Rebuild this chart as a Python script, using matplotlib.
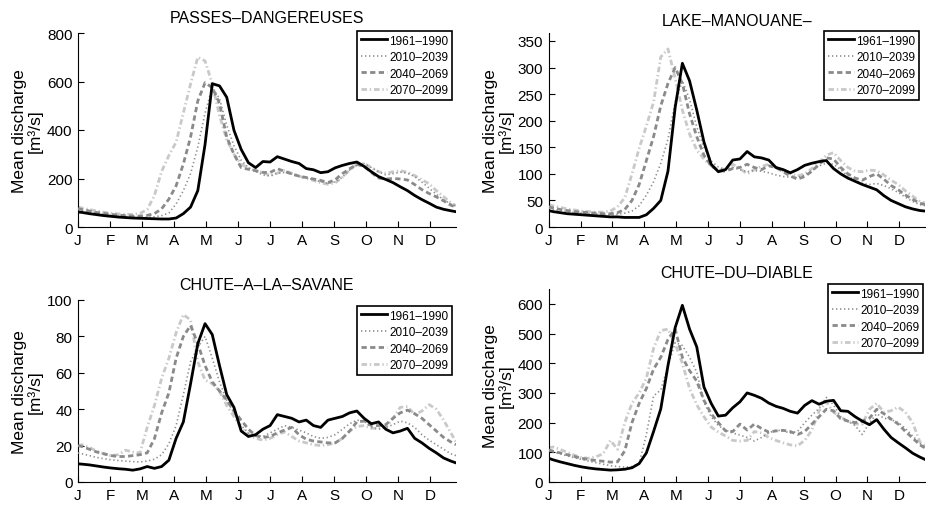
import numpy as np
import matplotlib.pyplot as plt

plt.rcParams['font.family'] = ['Liberation Sans', 'DejaVu Sans']

# day of year grid (ticks every 31 days, one per month letter)
days = np.r_[1, np.arange(5, 363, 7), 367]
months = ['J', 'F', 'M', 'A', 'M', 'J', 'J', 'A', 'S', 'O', 'N', 'D']
periods = ['1961–1990', '2010–2039', '2040–2069', '2070–2099']

# PASSES-DANGEREUSES
pd_1961 = [62, 60, 55, 51, 47, 44, 41, 39, 37,
           36, 35, 34, 33, 33, 37, 55, 82, 150,
           340, 591, 582, 535, 399, 320, 265, 245, 270,
           268, 290, 280, 270, 262, 241, 236, 224, 228,
           244, 254, 262, 268, 250, 228, 208, 196, 183,
           166, 150, 130, 113, 98, 82, 73, 67, 63]
pd_2010 = [72, 68, 62, 57, 52, 48, 45, 43, 41,
           40, 40, 42, 47, 58, 95, 150, 220, 330,
           470, 575, 530, 420, 335, 275, 245, 230, 215,
           210, 222, 225, 218, 210, 203, 196, 186, 180,
           186, 205, 235, 255, 262, 245, 228, 215, 220,
           226, 222, 208, 185, 160, 135, 112, 95, 86]
pd_2040 = [76, 72, 66, 60, 56, 52, 49, 47, 45,
           45, 48, 55, 75, 115, 170, 260, 371, 520,
           595, 575, 510, 371, 300, 245, 238, 232, 225,
           225, 240, 230, 218, 210, 204, 198, 192, 183,
           195, 220, 240, 258, 250, 225, 202, 198, 200,
           198, 194, 175, 154, 138, 124, 108, 90, 82]
pd_2070 = [82, 78, 72, 66, 61, 57, 54, 52, 52,
           56, 72, 130, 230, 295, 350, 470, 590, 700,
           685, 590, 460, 360, 300, 260, 242, 232, 225,
           212, 222, 232, 222, 210, 200, 192, 182, 176,
           182, 205, 235, 258, 262, 245, 228, 222, 228,
           232, 226, 212, 195, 178, 150, 125, 100, 88]

# LAKE-MANOUANE
lm_1961 = [31, 29, 27, 25, 24, 23, 22, 21, 20,
           19, 19, 18, 18, 18, 23, 35, 50, 105,
           225, 308, 275, 220, 160, 118, 104, 108, 126,
           128, 142, 132, 130, 126, 112, 108, 102, 108,
           116, 120, 123, 125, 110, 100, 92, 86, 80,
           75, 70, 59, 50, 44, 38, 34, 31, 30]
lm_2010 = [35, 33, 31, 29, 27, 26, 25, 24, 24,
           23, 24, 26, 30, 40, 60, 85, 120, 165,
           235, 275, 240, 188, 150, 124, 113, 108, 112,
           108, 104, 106, 105, 102, 98, 95, 94, 93,
           98, 106, 115, 120, 118, 108, 96, 88, 82,
           80, 82, 78, 72, 65, 56, 48, 42, 40]
lm_2040 = [38, 36, 33, 31, 29, 28, 27, 26, 25,
           25, 27, 33, 50, 80, 125, 170, 228, 270,
           300, 270, 213, 170, 135, 115, 106, 105, 110,
           112, 118, 112, 108, 115, 112, 104, 96, 90,
           95, 105, 118, 130, 128, 112, 100, 92, 88,
           95, 100, 90, 78, 70, 60, 52, 45, 42]
lm_2070 = [42, 40, 37, 34, 32, 30, 29, 28, 28,
           30, 38, 55, 100, 148, 190, 235, 320, 335,
           280, 220, 175, 145, 128, 115, 106, 110, 118,
           110, 100, 108, 114, 118, 112, 105, 100, 96,
           100, 110, 122, 135, 140, 125, 112, 105, 104,
           107, 106, 98, 88, 80, 68, 58, 48, 45]

# CHUTE-A-LA-SAVANE
cs_1961 = [10, 9.8, 9.4, 8.8, 8.2, 7.7, 7.3, 7.0, 6.5,
           7.2, 8.5, 7.5, 8.5, 12, 24, 33, 54, 76,
           87, 81, 64, 48, 41, 28, 25, 26, 29,
           31, 37, 36, 35, 33, 34, 31, 30, 34,
           35, 36, 38, 39, 35, 32, 33, 29, 27,
           28, 29.5, 24, 21.5, 18.5, 16, 13.2, 11.5, 10.5]
cs_2010 = [16, 15.5, 14.5, 13.5, 12.8, 12.2, 11.8, 11.5, 11.2,
           11, 11.5, 12.5, 15, 21, 31, 48, 66, 74,
           80, 68, 55, 45, 38, 31, 27, 25.5, 25,
           27, 29, 31, 30, 28.5, 27, 25, 24, 24.5,
           26, 29, 32, 34, 33.5, 30, 29, 30, 31.5,
           33.5, 32.5, 30, 26, 23, 20.5, 18, 15.5, 14.5]
cs_2040 = [20, 19.5, 18, 16.5, 15.5, 14.5, 14, 14, 14.5,
           15, 16, 23.8, 38, 49, 68, 80, 86, 76,
           64, 55, 50, 45, 39, 34, 29, 25.5, 24.5,
           25, 27, 28.5, 30, 26, 23.5, 22.5, 22, 21.5,
           21.5, 24, 28, 33, 33.5, 31, 31, 31.5, 35,
           38, 39.5, 37.5, 35, 31.5, 28, 24.5, 22, 20.5]
cs_2070 = [20, 20.5, 19, 17, 15.5, 14.5, 15, 17.5, 16.5,
           16, 30, 42, 57, 68, 82, 92, 89, 66,
           56, 54, 50, 42, 36, 30, 26, 24, 23,
           24, 26, 27.5, 25, 22.5, 21.5, 20.5, 20, 20.5,
           21.5, 24, 28, 30.5, 31, 29.5, 29.5, 30, 35,
           41, 41.5, 37, 39, 42.5, 40, 34, 27, 22]

# CHUTE-DU-DIABLE
cd_1961 = [80, 75, 68, 62, 56, 51, 47, 44, 42,
           40, 41, 43, 48, 62, 98, 170, 246, 392,
           520, 595, 515, 455, 320, 265, 222, 225, 250,
           270, 300, 292, 282, 266, 255, 248, 238, 232,
           258, 274, 262, 272, 275, 240, 238, 220, 205,
           193, 210, 178, 150, 132, 115, 97, 84, 76]
cd_2010 = [105, 102, 95, 88, 82, 76, 70, 65, 60,
           55, 52, 50, 52, 62, 160, 290, 310, 390,
           470, 460, 420, 370, 270, 220, 190, 175, 165,
           158, 150, 138, 150, 165, 175, 172, 165, 170,
           200, 225, 248, 285, 260, 220, 205, 190, 160,
           200, 230, 215, 210, 200, 180, 155, 130, 118]
cd_2040 = [108, 104, 98, 92, 86, 80, 76, 72, 70,
           67, 68, 105, 200, 265, 315, 380, 420, 480,
           515, 420, 375, 340, 275, 230, 200, 172, 170,
           195, 175, 195, 180, 168, 172, 174, 170, 160,
           170, 195, 220, 245, 240, 213, 205, 200, 205,
           215, 245, 230, 212, 195, 170, 148, 125, 115]
cd_2070 = [115, 118, 110, 100, 90, 82, 80, 85, 95,
           140, 110, 200, 265, 300, 350, 450, 510, 515,
           465, 400, 315, 260, 220, 185, 168, 155, 140,
           138, 140, 170, 165, 150, 140, 132, 125, 122,
           140, 175, 240, 270, 235, 218, 205, 195, 195,
           245, 265, 235, 240, 252, 235, 200, 135, 122]

panels = [
    ('PASSES–DANGEREUSES', [pd_1961, pd_2010, pd_2040, pd_2070], 800, np.arange(0, 801, 200)),
    ('LAKE–MANOUANE–', [lm_1961, lm_2010, lm_2040, lm_2070], 365, np.arange(0, 351, 50)),
    ('CHUTE–A–LA–SAVANE', [cs_1961, cs_2010, cs_2040, cs_2070], 100, np.arange(0, 101, 20)),
    ('CHUTE–DU–DIABLE', [cd_1961, cd_2010, cd_2040, cd_2070], 650, np.arange(0, 601, 100)),
]

styles = [
    dict(color='black', lw=2.0, ls='-', zorder=5),
    dict(color='#8e8e8e', lw=1.2, ls=(0, (0.8, 1.6)), zorder=3),
    dict(color='#8a8a8a', lw=2.0, ls=(0, (1.9, 1.2)), zorder=4),
    dict(color='#c9c9c9', lw=2.0, ls=(0, (2.0, 1.0, 0.5, 1.0)), zorder=2),
]

W, H = 929, 506
# axes boxes in pixels: left, right, top, bottom
boxes = [(78, 456, 34, 228), (548.7, 925, 34, 228),
         (78, 456, 301, 483), (548.7, 925, 290, 483)]
legend_corners = [(452, 32), (919, 32), (452, 307), (923, 285)]
title_pads = [8, 5.5, 8, 8.5]

fig = plt.figure(figsize=(W / 100, H / 100), dpi=100)

for i, (title, series, ytop, yticks) in enumerate(panels):
    l, r, t, b = boxes[i]
    ax = fig.add_axes([l / W, 1 - b / H, (r - l) / W, (b - t) / H])
    for vals, lab, st in zip(series, periods, styles):
        ax.plot(days, vals, label=lab, color=st['color'], lw=st['lw'],
                linestyle=st['ls'], zorder=st['zorder'])
    ax.set_xlim(1, 367)
    ax.set_ylim(0, ytop)
    ax.set_xticks(np.arange(1, 366, 31))
    ax.set_xticklabels(months)
    ax.set_yticks(yticks)
    ax.tick_params(direction='in', length=4, width=0.8, labelsize=11, pad=4)
    for s in ['top', 'right']:
        ax.spines[s].set_visible(False)
    for s in ['left', 'bottom']:
        ax.spines[s].set_linewidth(0.8)
    ax.set_title(title, fontsize=11.5, pad=title_pads[i])
    ax.set_ylabel('Mean discharge\n[m³/s]', fontsize=12.5, linespacing=1.0, labelpad=3)
    lx, ly = legend_corners[i]
    leg = ax.legend(loc='upper right', bbox_to_anchor=(lx / W, 1 - ly / H),
                    bbox_transform=fig.transFigure, fontsize=8.5, fancybox=False,
                    edgecolor='black', framealpha=1, borderpad=0.3, borderaxespad=0,
                    handlelength=2.2, handletextpad=0.2, labelspacing=0.38)
    leg.get_frame().set_linewidth(1.2)

fig.savefig('out.png', dpi=100)
